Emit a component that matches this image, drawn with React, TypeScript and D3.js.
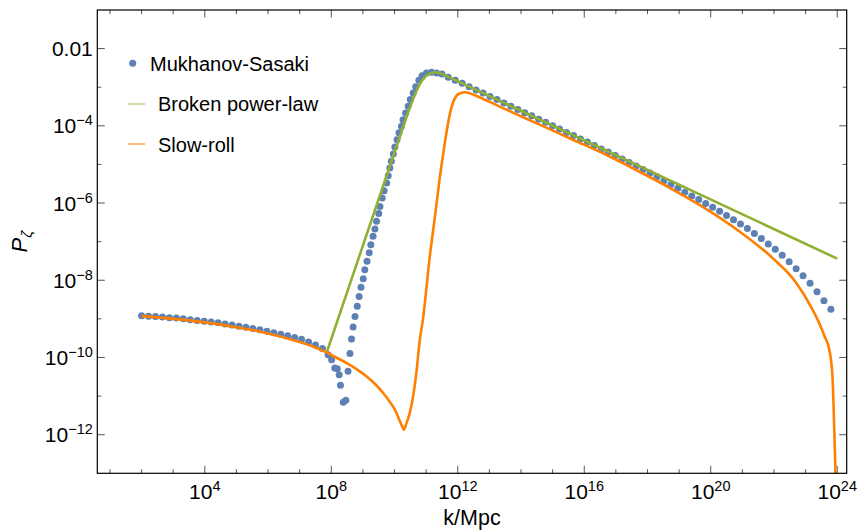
import React from 'react';
import * as d3 from 'd3';

const W = 858;
const H = 532;
const margin = { top: 10, right: 11.3, bottom: 58.7, left: 97.3 };

// Mukhanov-Sasaki numerical points (log10 k, log10 P)
const msLogK = [
  2.0, 2.22, 2.44, 2.66, 2.88, 3.1, 3.32, 3.54, 3.76, 3.98, 4.2, 4.42, 4.64, 4.86, 5.08, 5.3, 5.52, 5.74,
  5.96, 6.18, 6.4, 6.62, 6.84, 7.06, 7.28, 7.5, 7.72,
  7.9, 8.01, 8.11, 8.19, 8.25, 8.29, 8.38, 8.46, 8.53, 8.59, 8.64, 8.69, 8.75, 8.82, 8.88, 8.94, 9.01,
  9.06, 9.13, 9.2, 9.25, 9.32, 9.38, 9.43, 9.5, 9.54, 9.61, 9.67, 9.75, 9.8, 9.85, 9.9, 9.96, 10.01,
  10.08, 10.14, 10.22, 10.27, 10.35, 10.43, 10.5, 10.59, 10.67, 10.77, 10.87, 11.01, 11.17, 11.33,
  11.5, 11.7,
  11.92, 12.14, 12.36, 12.58, 12.8, 13.02, 13.24, 13.46, 13.68, 13.9, 14.12, 14.34, 14.56, 14.78, 15.0,
  15.22, 15.44, 15.66, 15.88, 16.1, 16.32, 16.54, 16.76, 16.98, 17.2, 17.42, 17.64, 17.86, 18.08, 18.3,
  18.52, 18.74, 18.96, 19.18, 19.4, 19.62, 19.84, 20.06, 20.28, 20.5, 20.72, 20.94, 21.16, 21.38, 21.6,
  21.82, 22.04, 22.26, 22.48, 22.7, 22.92, 23.14, 23.36, 23.58, 23.8,
];
const msLogP = [
  -8.92, -8.93, -8.94, -8.95, -8.97, -8.98, -9.0, -9.02, -9.04, -9.06, -9.08, -9.1, -9.13, -9.16, -9.19,
  -9.22, -9.25, -9.28, -9.32, -9.36, -9.4, -9.44, -9.48, -9.53, -9.6, -9.68, -9.77,
  -9.93, -10.06, -10.27, -10.29, -10.45, -10.72, -11.16, -11.11, -10.36, -9.9, -9.52, -9.21, -8.94,
  -8.67, -8.42, -8.18, -7.96, -7.73, -7.51, -7.29, -7.08, -6.86, -6.67, -6.47, -6.27, -6.09, -5.87,
  -5.68, -5.48, -5.29, -5.09, -4.92, -4.73, -4.55, -4.36, -4.18, -4.01, -3.84, -3.67, -3.49, -3.32,
  -3.15, -2.99, -2.82, -2.7, -2.63, -2.61, -2.63, -2.66, -2.74,
  -2.82, -2.9, -2.99, -3.07, -3.15, -3.24, -3.32, -3.41, -3.49, -3.58, -3.66, -3.74, -3.83, -3.91, -4.0,
  -4.08, -4.17, -4.25, -4.34, -4.42, -4.51, -4.6, -4.68, -4.77, -4.86, -4.95, -5.04, -5.13, -5.22, -5.32,
  -5.42, -5.52, -5.62, -5.72, -5.82, -5.91, -6.01, -6.11, -6.21, -6.32, -6.43, -6.54, -6.66, -6.79,
  -6.92, -7.06, -7.2, -7.35, -7.52, -7.7, -7.88, -8.08, -8.3, -8.53, -8.75,
];

// Broken power-law
const bplLogK = [7.85, 10.4, 10.55, 10.7, 10.85, 11.0, 11.15, 11.3, 11.45, 24.0];
const bplLogP = [-9.88, -3.72, -3.38, -3.08, -2.85, -2.7, -2.63, -2.61, -2.635, -7.44];

// Slow-roll
const srLogK = [
  2.0, 2.5, 3.0, 3.5, 4.0, 4.5, 5.0, 5.5, 6.0, 6.5, 7.0, 7.5, 7.85, 8.2, 8.5, 8.8, 9.12, 9.4, 9.64, 9.85,
  10.01, 10.17, 10.24, 10.29, 10.38, 10.48, 10.59, 10.69, 10.8, 10.9, 11.11, 11.27, 11.43, 11.59, 11.7,
  11.8, 11.9, 12.0, 12.1, 12.22, 12.4, 12.69, 13.54, 14.59, 15.64, 16.69, 17.75, 18.8, 19.85, 20.9,
  21.95, 22.69, 23.22, 23.43, 23.6, 23.75, 23.85, 23.91, 23.94, 23.97,
];
const srLogP = [
  -8.93, -8.96, -9.0, -9.04, -9.09, -9.15, -9.22, -9.29, -9.38, -9.48, -9.6, -9.74, -9.87, -10.02, -10.15,
  -10.3, -10.49, -10.7, -10.92, -11.15, -11.35, -11.65, -11.78, -11.87, -11.7, -11.44, -11.0, -10.4,
  -9.54, -9.0, -7.42, -6.4, -5.35, -4.45, -3.9, -3.52, -3.3, -3.19, -3.15, -3.13, -3.16, -3.26, -3.58,
  -3.97, -4.36, -4.75, -5.19, -5.65, -6.15, -6.73, -7.42, -8.05, -8.76, -9.11, -9.45, -9.8, -10.5,
  -11.96, -12.82, -14.0,
];

const xMajorExp = [4, 8, 12, 16, 20, 24];
const xMinorExp = [1, 2, 3, 5, 6, 7, 9, 10, 11, 13, 14, 15, 17, 18, 19, 21, 22, 23];
const yMajorExp = [-2, -4, -6, -8, -10, -12];
const yMinorExp = [-3, -5, -7, -9, -11];

const legendNames = ['Mukhanov-Sasaki', 'Broken power-law', 'Slow-roll'];

const BLUE = '#5E81B5';
const GREEN = '#8FB032';
const ORANGE = '#FF8000';
const FONT = "'Liberation Sans', Arial, sans-serif";

export default function App() {
  const x = d3.scaleLog().domain([10 ** 0.6, 10 ** 24.3]).range([margin.left, W - margin.right]);
  const y = d3.scaleLog().domain([1e-13, 1e-1]).range([H - margin.bottom, margin.top]);
  const x0 = margin.left, x1 = W - margin.right, y0 = H - margin.bottom, y1 = margin.top;

  const msPts = msLogK.map((k, i) => [10 ** k, 10 ** msLogP[i]] as [number, number]);
  const bplPts = bplLogK.map((k, i) => [10 ** k, 10 ** bplLogP[i]] as [number, number]);
  const srPts = srLogK.map((k, i) => [10 ** k, 10 ** srLogP[i]] as [number, number]);

  const straight = d3.line<[number, number]>().x(d => x(d[0])).y(d => y(d[1]));
  const smooth = d3.line<[number, number]>().x(d => x(d[0])).y(d => y(d[1])).curve(d3.curveMonotoneX);

  const tickColor = '#555';
  const major = 7.5, minor = 4;

  return (
    <svg width={W} height={H} style={{ position: 'absolute', left: 0, top: 0, background: '#fff' }} fontFamily={FONT}>
      <defs>
        <clipPath id="plot">
          <rect x={x0} y={y1} width={x1 - x0} height={y0 - y1} />
        </clipPath>
      </defs>

      {/* ticks */}
      <g stroke={tickColor} strokeWidth={1}>
        {xMajorExp.map(e => (
          <g key={'xM' + e}>
            <line x1={x(10 ** e)} x2={x(10 ** e)} y1={y0} y2={y0 - major} />
            <line x1={x(10 ** e)} x2={x(10 ** e)} y1={y1} y2={y1 + major} />
          </g>
        ))}
        {xMinorExp.map(e => (
          <g key={'xm' + e}>
            <line x1={x(10 ** e)} x2={x(10 ** e)} y1={y0} y2={y0 - minor} />
            <line x1={x(10 ** e)} x2={x(10 ** e)} y1={y1} y2={y1 + minor} />
          </g>
        ))}
        {yMajorExp.map(e => (
          <g key={'yM' + e}>
            <line x1={x0} x2={x0 + major} y1={y(10 ** e)} y2={y(10 ** e)} />
            <line x1={x1} x2={x1 - major} y1={y(10 ** e)} y2={y(10 ** e)} />
          </g>
        ))}
        {yMinorExp.map(e => (
          <g key={'ym' + e}>
            <line x1={x0} x2={x0 + minor} y1={y(10 ** e)} y2={y(10 ** e)} />
            <line x1={x1} x2={x1 - minor} y1={y(10 ** e)} y2={y(10 ** e)} />
          </g>
        ))}
      </g>

      {/* tick labels */}
      <g fontSize={21} fill="#000">
        {xMajorExp.map(e => (
          <text key={'xl' + e} x={x(10 ** e)} y={499} textAnchor="middle">
            10<tspan fontSize={14.5} dy={-8}>{e}</tspan>
          </text>
        ))}
        {yMajorExp.map(e => (
          <text key={'yl' + e} x={x0 - 4.5} y={y(10 ** e) + 7.5} textAnchor="end">
            {e === -2 ? '0.01' : (<>10<tspan fontSize={14.5} dy={-8}>{'\u2212' + -e}</tspan></>)}
          </text>
        ))}
      </g>

      {/* axis labels */}
      <text x={(x0 + x1) / 2} y={525} textAnchor="middle" fontSize={21.5}>k/Mpc</text>
      <text transform={`translate(27,${(y0 + y1) / 2}) rotate(-90)`} textAnchor="middle" fontSize={22}>
        <tspan fontStyle="italic">P</tspan>
        <tspan fontStyle="italic" fontSize={15} dy={5}>ζ</tspan>
      </text>

      {/* data */}
      <g clipPath="url(#plot)">
        {msPts.map((d, i) => (
          <circle key={i} cx={x(d[0])} cy={y(d[1])} r={3.5} fill={BLUE} />
        ))}
        <path d={straight(bplPts) || ''} fill="none" stroke={GREEN} strokeWidth={2.6} strokeLinejoin="round" />
        <path d={smooth(srPts) || ''} fill="none" stroke={ORANGE} strokeWidth={2.6} strokeLinejoin="round" />
      </g>

      {/* frame */}
      <rect x={x0} y={y1} width={x1 - x0} height={y0 - y1} fill="none" stroke="#000" strokeWidth={1.2} />

      {/* legend */}
      <g fontSize={20}>
        <circle cx={132.7} cy={63.3} r={3.5} fill={BLUE} />
        <text x={150} y={71}>{legendNames[0]}</text>
        <line x1={128} x2={145} y1={104} y2={104} stroke={GREEN} strokeOpacity={0.6} strokeWidth={1.5} />
        <text x={158} y={111}>{legendNames[1]}</text>
        <line x1={128} x2={145} y1={144} y2={144} stroke={ORANGE} strokeOpacity={0.7} strokeWidth={1.5} />
        <text x={158} y={151.5}>{legendNames[2]}</text>
      </g>
    </svg>
  );
}
